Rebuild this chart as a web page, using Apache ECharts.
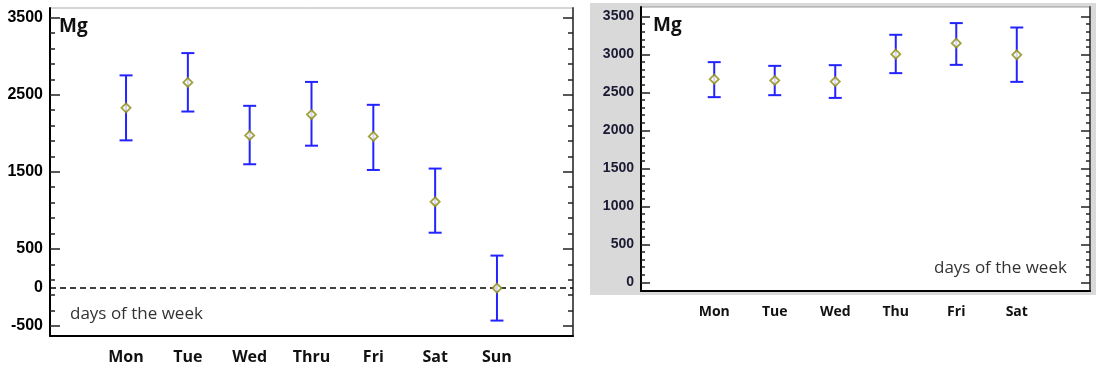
<!DOCTYPE html>
<html>
<head>
<meta charset="utf-8">
<script src="https://cdn.jsdelivr.net/npm/echarts@6/dist/echarts.min.js"></script>
<style>html,body{margin:0;padding:0;background:#fff}#c{width:1096px;height:370px}</style>
</head>
<body>
<div id="c"></div>
<script>
// ---- data ----
const days1 = ['Mon', 'Tue', 'Wed', 'Thru', 'Fri', 'Sat', 'Sun'];
const mean1 = [2330, 2660, 1972, 2243, 1959, 1111, -8];
const low1  = [1908, 2282, 1598, 1839, 1524, 710, -430];
const high1 = [2751, 3040, 2356, 2666, 2369, 1542, 413];

const days2 = ['Mon', 'Tue', 'Wed', 'Thu', 'Fri', 'Sat'];
const mean2 = [2675, 2657, 2643, 3004, 3149, 2995];
const low2  = [2438, 2464, 2428, 2754, 2863, 2639];
const high2 = [2899, 2850, 2859, 3259, 3413, 3355];

const yLabels1 = [3500, 2500, 1500, 500, 0, -500];
const yMajor1 = [3500, 2500, 1500, 500, -500];
const yMinor1 = [-500, -300, -100, 100, 300, 500, 700, 900, 1100, 1300, 1500, 1700, 1900, 2100, 2300, 2500, 2700, 2900, 3100, 3300, 3500];
const yLabels2 = [0, 500, 1000, 1500, 2000, 2500, 3000, 3500];
const yMinor2 = [0, 100, 200, 300, 400, 500, 600, 700, 800, 900, 1000, 1100, 1200, 1300, 1400, 1500, 1600, 1700, 1800, 1900, 2000, 2100, 2200, 2300, 2400, 2500, 2600, 2700, 2800, 2900, 3000, 3100, 3200, 3300, 3400, 3500];

const xPos1 = days1.map((d, i) => i + 1);
const xPos2 = days2.map((d, i) => i + 1);

const chart = echarts.init(document.getElementById('c'), null, {renderer: 'canvas'});

const tickStyle = {color: '#222', width: 1.5};

function mainY(grid, min, max, labels, major, labelFont, labelColor, majLen) {
  return [
    { gridIndex: grid, type: 'value', min: min, max: max, position: 'left', offset: 0,
      axisLine: {show: true, onZero: false, lineStyle: {color: '#000', width: 2}},
      axisTick: {show: true, inside: true, length: majLen, customValues: major, lineStyle: tickStyle},
      axisLabel: {show: true, customValues: labels, margin: 7, formatter: v => String(v),
        fontFamily: 'Liberation Sans, Arial', fontWeight: 'bold', fontSize: labelFont, color: labelColor},
      splitLine: {show: false} },
    { gridIndex: grid, type: 'value', min: min, max: max, position: 'right', offset: 0,
      axisLine: {show: true, onZero: false, lineStyle: {color: '#555', width: 2}},
      axisTick: {show: true, inside: true, length: majLen, customValues: major, lineStyle: tickStyle},
      axisLabel: {show: false}, splitLine: {show: false} }
  ];
}
function minorY(grid, min, max, minor, minLen) {
  return [
    { gridIndex: grid, type: 'value', min: min, max: max, position: 'left', offset: 0,
      axisLine: {show: false, onZero: false},
      axisTick: {show: true, inside: true, length: minLen, customValues: minor, lineStyle: tickStyle},
      axisLabel: {show: false}, splitLine: {show: false} },
    { gridIndex: grid, type: 'value', min: min, max: max, position: 'right', offset: 0,
      axisLine: {show: false, onZero: false},
      axisTick: {show: true, inside: true, length: minLen, customValues: minor, lineStyle: tickStyle},
      axisLabel: {show: false}, splitLine: {show: false} }
  ];
}

function errSeries(xi, yi, xs, lo, hi) {
  return {
    type: 'custom', xAxisIndex: xi, yAxisIndex: yi, z: 3,
    data: xs.map((x, i) => [x, lo[i], hi[i]]),
    renderItem: function (params, api) {
      const x = api.value(0);
      const a = api.coord([x, api.value(1)]);
      const b = api.coord([x, api.value(2)]);
      const w = 6.5;
      const st = {stroke: '#2323ff', lineWidth: 2, fill: null};
      return {type: 'group', children: [
        {type: 'line', shape: {x1: a[0], y1: a[1], x2: b[0], y2: b[1]}, style: st},
        {type: 'line', shape: {x1: a[0] - w, y1: a[1], x2: a[0] + w, y2: a[1]}, style: st},
        {type: 'line', shape: {x1: b[0] - w, y1: b[1], x2: b[0] + w, y2: b[1]}, style: st}
      ]};
    }
  };
}

function ptSeries(xi, yi, xs, m, extra) {
  return Object.assign({
    type: 'scatter', xAxisIndex: xi, yAxisIndex: yi, z: 5,
    symbol: 'diamond', symbolSize: [9, 9],
    itemStyle: {color: '#ffffff', borderColor: '#8f8f10', borderWidth: 1.9},
    data: xs.map((x, i) => [x, m[i]])
  }, extra || {});
}

const hiddenX = (g, min, max) => ({gridIndex: g, type: 'value', min: min, max: max, show: false,
  axisLine: {onZero: false}});

const option = {
  animation: false,
  backgroundColor: '#fff',
  graphic: [
    {type: 'rect', z: -100, shape: {x: 590, y: 3, width: 506, height: 292}, style: {fill: '#d9d9d9'}},
    {type: 'text', z: 100, left: 59, top: 17, style: {text: 'Mg', fontFamily: 'Open Sans', fontWeight: 'bold', fontSize: 19, fill: '#111'}},
    {type: 'text', z: 100, left: 653, top: 16, style: {text: 'Mg', fontFamily: 'Open Sans', fontWeight: 'bold', fontSize: 19, fill: '#111'}},
    {type: 'text', z: 100, left: 70, top: 306, style: {text: 'days of the week', fontFamily: 'Open Sans', fontSize: 17, fill: '#333'}},
    {type: 'text', z: 100, left: 934, top: 260, style: {text: 'days of the week', fontFamily: 'Open Sans', fontSize: 17, fill: '#333'}}
  ],
  grid: [
    {left: 50, top: 8, width: 523, height: 328, show: true, backgroundColor: '#fff', borderColor: '#aaa', borderWidth: 1},
    {left: 641, top: 7, width: 449, height: 284, show: true, backgroundColor: '#fff', borderColor: '#999', borderWidth: 1},
    {left: 50, top: 8, width: 523, height: 328, show: false},
    {left: 641, top: 7, width: 449, height: 284, show: false}
  ],
  xAxis: [
    { gridIndex: 0, type: 'value', min: -0.23, max: 8.23,
      axisLine: {show: true, onZero: false, lineStyle: {color: '#000', width: 2}},
      axisTick: {show: false},
      axisLabel: {customValues: xPos1, margin: 13, formatter: v => days1[Math.round(v) - 1] || '',
        fontFamily: 'Open Sans', fontWeight: 'bold', fontSize: 16, color: '#111'},
      splitLine: {show: false} },
    { gridIndex: 1, type: 'value', min: -0.21, max: 7.21,
      axisLine: {show: true, onZero: false, lineStyle: {color: '#000', width: 2}},
      axisTick: {show: false},
      axisLabel: {customValues: xPos2, margin: 14, formatter: v => days2[Math.round(v) - 1] || '',
        fontFamily: 'Open Sans', fontWeight: 'bold', fontSize: 14, color: '#111'},
      splitLine: {show: false} },
    hiddenX(2, -0.23, 8.23),
    hiddenX(3, -0.21, 7.21)
  ],
  yAxis: [].concat(
    mainY(0, -630, 3625, yLabels1, yMajor1, 16, '#000', 10),      // 0,1
    mainY(1, -115, 3625, yLabels2, yLabels2, 14, '#1a1a33', 9),   // 2,3
    minorY(2, -630, 3625, yMinor1, 5),                             // 4,5
    minorY(3, -115, 3625, yMinor2, 4)                              // 6,7
  ),
  series: [
    errSeries(0, 0, xPos1, low1, high1),
    ptSeries(0, 0, xPos1, mean1, {
      markLine: {silent: true, symbol: 'none', label: {show: false},
        lineStyle: {color: '#000', type: [6, 4], width: 1.5},
        data: [{yAxis: 0}]}
    }),
    errSeries(1, 2, xPos2, low2, high2),
    ptSeries(1, 2, xPos2, mean2)
  ]
};
chart.setOption(option);
</script>
</body>
</html>
